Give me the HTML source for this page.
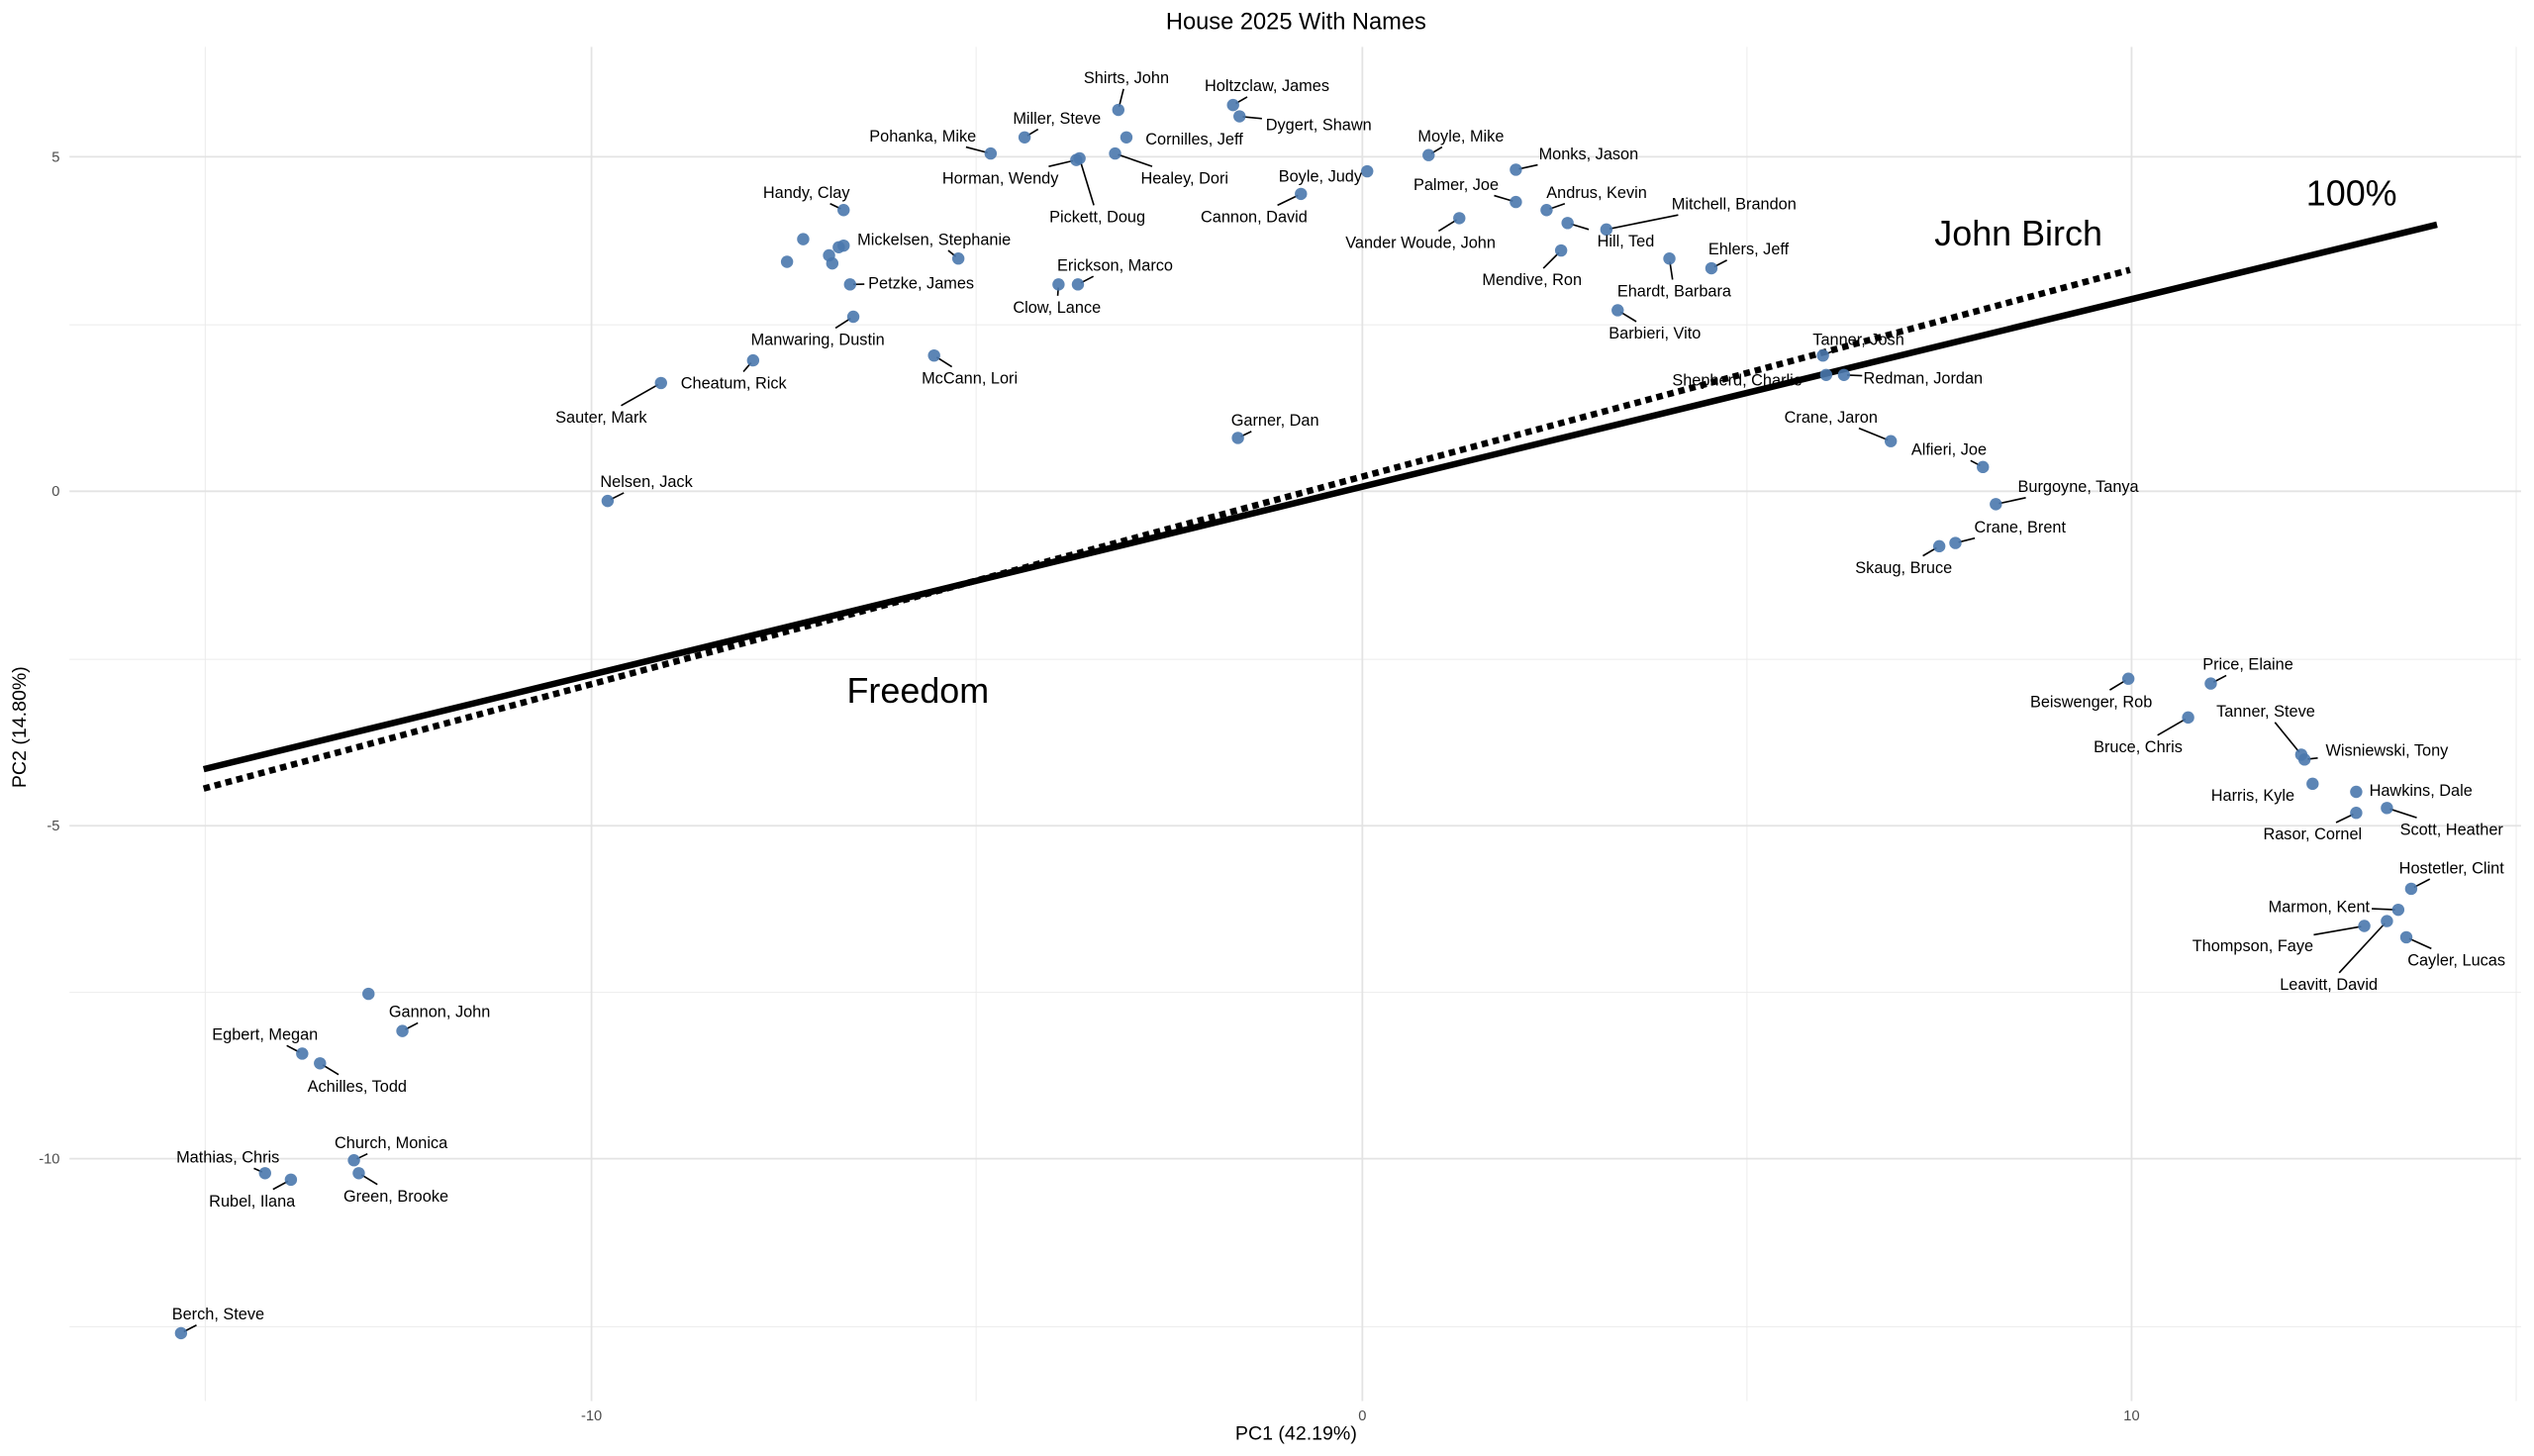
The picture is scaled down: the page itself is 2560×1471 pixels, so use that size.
<!DOCTYPE html>
<html><head><meta charset="utf-8"><style>
html,body{margin:0;padding:0;background:#fff;}
svg{display:block;}
text{font-family:"Liberation Sans",Arial,sans-serif;}
</style></head><body>
<svg id="s" width="2560" height="1471" viewBox="0 0 1568 901" xmlns="http://www.w3.org/2000/svg">
<rect width="1568" height="901" fill="#fff"/>
<g stroke="#ebebeb" stroke-width="0.6">
<line x1="127" y1="29" x2="127" y2="867"/><line x1="604" y1="29" x2="604" y2="867"/>
<line x1="1081" y1="29" x2="1081" y2="867"/><line x1="1557" y1="29" x2="1557" y2="867"/>
<line x1="43" y1="201" x2="1560" y2="201"/><line x1="43" y1="408" x2="1560" y2="408"/>
<line x1="43" y1="614" x2="1560" y2="614"/><line x1="43" y1="821" x2="1560" y2="821"/>
</g>
<g stroke="#e3e3e3" stroke-width="1.1">
<line x1="366" y1="29" x2="366" y2="867"/><line x1="843" y1="29" x2="843" y2="867"/><line x1="1319" y1="29" x2="1319" y2="867"/>
<line x1="43" y1="97" x2="1560" y2="97"/><line x1="43" y1="304" x2="1560" y2="304"/>
<line x1="43" y1="511" x2="1560" y2="511"/><line x1="43" y1="717" x2="1560" y2="717"/>
</g>
<g font-size="9" fill="#4d4d4d">
<text x="366" y="879" text-anchor="middle">-10</text>
<text x="843" y="879" text-anchor="middle">0</text>
<text x="1319" y="879" text-anchor="middle">10</text>
<text x="37" y="100" text-anchor="end">5</text>
<text x="37" y="307" text-anchor="end">0</text>
<text x="37" y="514" text-anchor="end">-5</text>
<text x="37" y="720" text-anchor="end">-10</text>
</g>
<text x="802" y="891" font-size="12" text-anchor="middle">PC1 (42.19%)</text>
<text transform="translate(16,450) rotate(-90)" font-size="12" text-anchor="middle">PC2 (14.80%)</text>
<text x="802" y="18" font-size="14.5" text-anchor="middle">House 2025 With Names</text>
<line x1="126" y1="476" x2="1508" y2="139" stroke="#000" stroke-width="4"/>
<line x1="126" y1="488" x2="1318" y2="167" stroke="#000" stroke-width="4" stroke-dasharray="4 3"/>
<g font-size="22">
<text x="1427" y="127">100%</text>
<text x="1197" y="152">John Birch</text>
<text x="524" y="435">Freedom</text>
</g>
<g id="segs" stroke="#000" stroke-width="1"></g>
<g id="pts" fill="#4a78ad" fill-opacity="0.9"></g>
<g id="lbls" font-size="10" fill="#000" text-anchor="middle"></g>
</svg>
<script>
var D=[
["Shirts, John",692,68,697,48],["Holtzclaw, James",763,65,784,53],["Dygert, Shawn",767,72,816,77],
["Miller, Steve",634,85,654,73],["Cornilles, Jeff",697,85,739,86],["Pohanka, Mike",613,95,571,84],
["Horman, Wendy",666,99,619,110],["Healey, Dori",690,95,733,110],["Pickett, Doug",668,98,679,134],
["Moyle, Mike",884,96,904,84],["Boyle, Judy",846,106,817,109],["Cannon, David",805,120,776,134],
["Monks, Jason",938,105,983,95],["Palmer, Joe",938,125,901,114],["Andrus, Kevin",957,130,988,119],
["Mitchell, Brandon",994,142,1073,126],["Hill, Ted",970,138,1006,149],["Vander Woude, John",903,135,879,150],
["Mendive, Ron",966,155,948,173],["Ehlers, Jeff",1059,166,1082,154],["Ehardt, Barbara",1033,160,1036,180],
["Barbieri, Vito",1001,192,1024,206],["Handy, Clay",522,130,499,119],["Mickelsen, Stephanie",593,160,578,148],
["",522,152],["",497,148],["",487,162],["",513,158],["",515,163],["",519,153],
["Petzke, James",526,176,570,175],["Erickson, Marco",667,176,690,164],["Clow, Lance",655,176,654,190],
["Manwaring, Dustin",528,196,506,210],["McCann, Lori",578,220,600,234],["Cheatum, Rick",466,223,454,237],
["Sauter, Mark",409,237,372,258],["Garner, Dan",766,271,789,260],["Nelsen, Jack",376,310,400,298],
["Tanner, Josh",1128,220,1150,210],["Shepherd, Charlie",1130,232,1075,235],["Redman, Jordan",1141,232,1190,234],
["Crane, Jaron",1170,273,1133,258],["Alfieri, Joe",1227,289,1206,278],["Burgoyne, Tanya",1235,312,1286,301],
["Crane, Brent",1210,336,1250,326],["Skaug, Bruce",1200,338,1178,351],["Beiswenger, Rob",1317,420,1294,434],
["Price, Elaine",1368,423,1391,411],["Bruce, Chris",1354,444,1323,462],["Tanner, Steve",1424,467,1402,440],
["Wisniewski, Tony",1426,470,1477,464],["Harris, Kyle",1431,485,1394,492],["Hawkins, Dale",1458,490,1498,489],
["Rasor, Cornel",1458,503,1431,516],["Scott, Heather",1477,500,1517,513],["Hostetler, Clint",1492,550,1517,537],
["Marmon, Kent",1484,563,1435,561],["Thompson, Faye",1463,573,1394,585],["Cayler, Lucas",1489,580,1520,594],
["Leavitt, David",1477,570,1441,609],["Gannon, John",249,638,272,626],["",228,615],
["Egbert, Megan",187,652,164,640],["Achilles, Todd",198,658,221,672],["Church, Monica",219,718,242,707],
["Green, Brooke",222,726,245,740],["Mathias, Chris",164,726,141,716],["Rubel, Ilana",180,730,156,743],
["Berch, Steve",112,825,135,813]];
var NS="http://www.w3.org/2000/svg";
var P=document.getElementById("pts"),L=document.getElementById("lbls"),S=document.getElementById("segs");
function el(t,a,p){var e=document.createElementNS(NS,t);for(var k in a)e.setAttribute(k,a[k]);p.appendChild(e);return e;}
D.forEach(function(d){
 el("circle",{cx:d[1],cy:d[2],r:3.8},P);
 if(!d[0])return;
 var t=el("text",{x:d[3],y:d[4]+3.5},L);t.textContent=d[0];
 var w=d[0].length*5.1/2+2,h=7;
 var dx=d[1]-d[3],dy=d[2]-d[4];
 var s=Math.min(dx?w/Math.abs(dx):1e9,dy?h/Math.abs(dy):1e9);
 if(s<1){var ex=d[3]+dx*s,ey=d[4]+dy*s;
  var ux=d[1]-ex,uy=d[2]-ey,len=Math.sqrt(ux*ux+uy*uy);
  if(len>5){var f=(len-2)/len;el("line",{x1:ex,y1:ey,x2:ex+ux*f,y2:ey+uy*f},S);}}
});
</script>
</body></html>
